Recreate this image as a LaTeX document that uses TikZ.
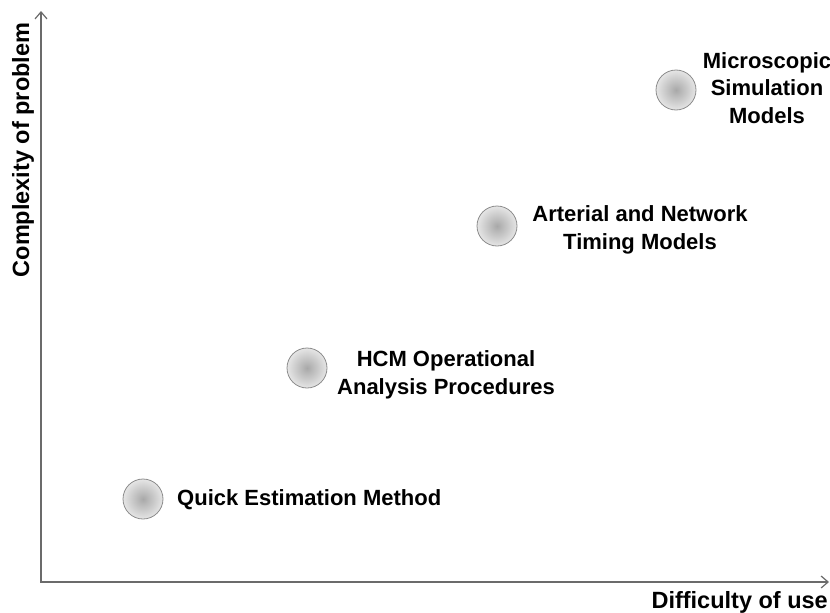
\documentclass[tikz,border=0pt]{standalone}
\usepackage{fontspec}
\setmainfont{Liberation Sans}
\usetikzlibrary{arrows.meta}
\definecolor{axisgray}{gray}{0.42}
\definecolor{ballin}{gray}{0.66}
\definecolor{ballout}{gray}{0.90}
\definecolor{ballrim}{gray}{0.55}
\tikzset{
  axis/.style={draw=axisgray, line width=1.6pt, -{Straight Barb[length=7pt,width=12pt,line width=1.2pt]}},
  ball/.style={circle, minimum size=40pt, inner sep=0pt, draw=ballrim, line width=0.8pt, inner color=ballin, outer color=ballout},
  lbl/.style={font=\fontsize{22pt}{27.5pt}\selectfont\bfseries, align=center, inner sep=0pt},
  axlbl/.style={font=\fontsize{23.5pt}{28pt}\selectfont\bfseries, inner sep=0pt},
}
\begin{document}
\begin{tikzpicture}[x=1pt,y=-1pt]
\useasboundingbox (0,0) rectangle (830,613);
\coordinate (O) at (41,582);
\coordinate (Xend) at (829,582);
\coordinate (Yend) at (41,11);
\draw[axis] (O) -- (Xend);
\draw[axis, shorten <=-0.8pt] (O) -- (Yend);
\node[axlbl, anchor=base east] (xl) at (828,608) {Difficulty of use};
\node[axlbl, rotate=90, anchor=base] (yl) at (29,150) {Complexity of problem};
\node[ball] (b1) at (143,499) {};
\node[ball] (b2) at (307,368) {};
\node[ball] (b3) at (497,226) {};
\node[ball] (b4) at (676,90) {};
\node[lbl, anchor=base west] (t1) at (177,505) {Quick Estimation Method};
\node[lbl] (t2) at (446,375) {HCM Operational\\Analysis Procedures};
\node[lbl] (t3) at (640,230) {Arterial and Network\\Timing Models};
\node[lbl] (t4) at (767,88) {Microscopic\\Simulation\\Models};
\end{tikzpicture}
\end{document}
